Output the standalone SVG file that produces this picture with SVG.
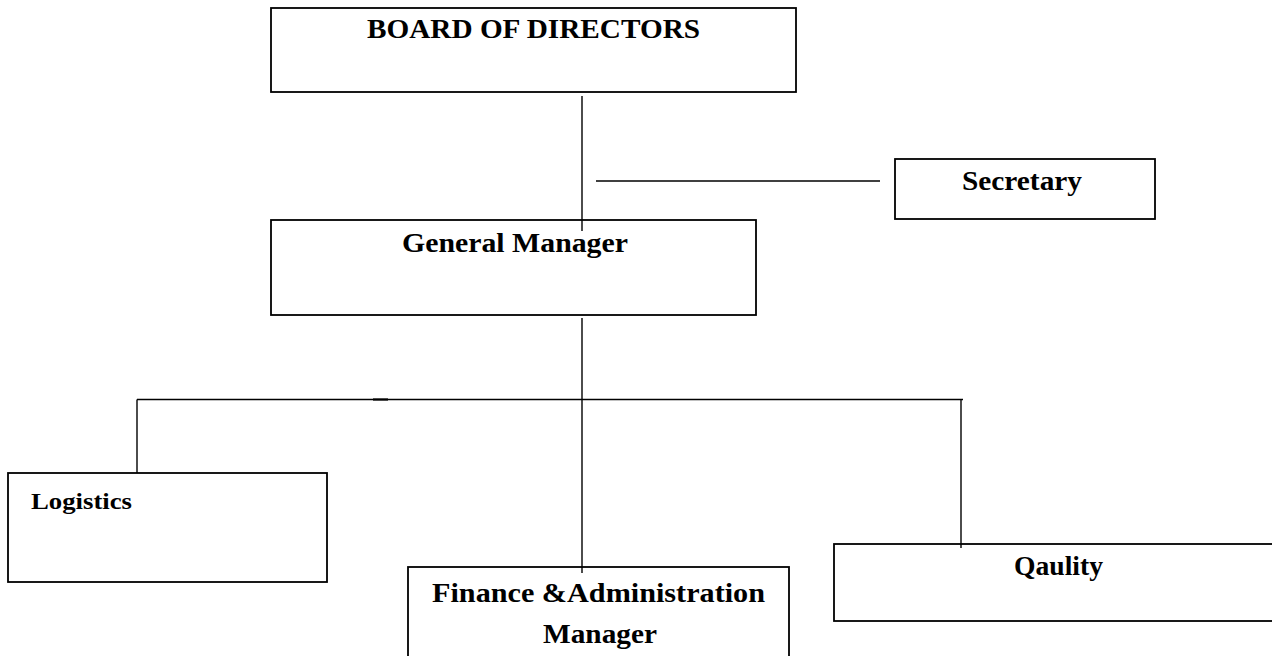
<svg xmlns="http://www.w3.org/2000/svg" width="1272" height="656" viewBox="0 0 1272 656">
<style>
.box{fill:none;stroke:#000;stroke-width:1.8}
.ln{stroke:#000;stroke-width:1.4;fill:none}
.t{font-family:"Liberation Serif","DejaVu Serif",serif;font-weight:bold;font-size:28px;fill:#000}
</style>
<rect width="1272" height="656" fill="#fff"/>
<g id="board">
<rect class="box" x="271" y="8" width="525" height="84"/>
<text class="t" x="533.5" y="38" text-anchor="middle" textLength="333" lengthAdjust="spacingAndGlyphs">BOARD OF DIRECTORS</text>
</g>
<g id="secretary">
<rect class="box" x="895" y="159" width="260" height="60"/>
<text class="t" x="1022" y="190" text-anchor="middle" style="font-size:27px" textLength="120" lengthAdjust="spacingAndGlyphs">Secretary</text>
</g>
<g id="gm">
<rect class="box" x="271" y="220" width="485" height="95"/>
<text class="t" x="515" y="252" text-anchor="middle" textLength="226" lengthAdjust="spacingAndGlyphs">General Manager</text>
</g>
<g id="logistics">
<rect class="box" x="8" y="473" width="319" height="109"/>
<text class="t" x="31" y="509" style="font-size:23px" textLength="101" lengthAdjust="spacingAndGlyphs">Logistics</text>
</g>
<g id="finance">
<rect class="box" x="408" y="567" width="381" height="100"/>
<text class="t" x="598.5" y="602" text-anchor="middle" textLength="333" lengthAdjust="spacingAndGlyphs">Finance &amp;Administration</text>
<text class="t" x="600" y="643" text-anchor="middle" textLength="114" lengthAdjust="spacingAndGlyphs">Manager</text>
</g>
<g id="quality">
<rect class="box" x="834" y="544" width="445" height="77"/>
<text class="t" x="1058.5" y="575" text-anchor="middle" style="font-size:27px" textLength="89" lengthAdjust="spacingAndGlyphs">Qaulity</text>
</g>
<g id="connectors">
<line class="ln" x1="582" y1="96" x2="582" y2="231"/>
<line class="ln" x1="596" y1="181" x2="880" y2="181"/>
<line class="ln" x1="582" y1="318" x2="582" y2="573"/>
<line class="ln" x1="137" y1="399.5" x2="963" y2="399.5"/>
<line x1="373" y1="399.5" x2="388" y2="399.5" stroke="#000" stroke-width="2.2"/>
<line class="ln" x1="137" y1="399.5" x2="137" y2="473"/>
<line class="ln" x1="961" y1="399.5" x2="961" y2="548"/>
</g>
</svg>
